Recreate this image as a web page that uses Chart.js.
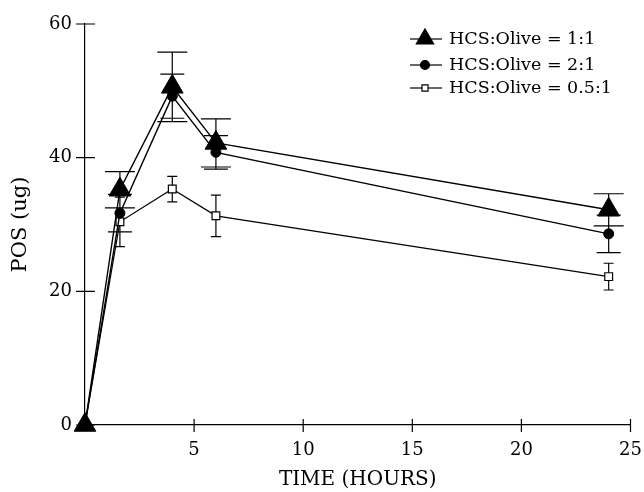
<!DOCTYPE html>
<html>
<head>
<meta charset="utf-8">
<script src="https://cdn.jsdelivr.net/npm/chart.js@4.4.0/dist/chart.umd.min.js"></script>
<style>
html, body { margin: 0; padding: 0; background: #fff; }
</style>
</head>
<body>
<canvas id="plot" width="644" height="492"></canvas>
<script>
var times  = [0, 1.6, 4, 6, 24];				//time, hours
var pos11  = [0, 35.2, 50.6, 42.2, 32.2];		//HCS:Olive = 1:1
var err11  = [0, 2.7, 5.2, 3.6, 2.4];
var pos21  = [0, 31.7, 49.2, 40.8, 28.6];		//HCS:Olive = 2:1
var err21  = [0, 2.8, 3.3, 2.5, 2.8];
var pos051 = [0, 30.4, 35.3, 31.3, 22.2];		//HCS:Olive = 0.5:1
var err051 = [0, 3.7, 1.9, 3.1, 2.0];
var labels = ['HCS:Olive = 1:1', 'HCS:Olive = 2:1', 'HCS:Olive = 0.5:1'];
var xTicks = [5, 10, 15, 20, 25];
var yTicks = [0, 20, 40, 60];

var errs = [err11, err21, err051];				//error bars per dataset
var capW = [15, 12, 5];							//half width of caps

function toPoints(arr) {
	return arr.map(function(v, j) { return {x: times[j], y: v}; });
}

var errorBars = {
	id: 'errorBars',
	beforeDatasetsDraw: function(chart) {
		var ctx = chart.ctx, sx = chart.scales.x, sy = chart.scales.y;
		ctx.save();
		ctx.strokeStyle = '#000';
		ctx.lineWidth = 1.2;
		ctx.beginPath();
		chart.data.datasets.forEach(function(ds, i) {
			ds.data.forEach(function(p, j) {
				var e = errs[i][j];
				if (!e) return;
				var px = sx.getPixelForValue(p.x);
				var top = sy.getPixelForValue(p.y + e), bot = sy.getPixelForValue(p.y - e);
				ctx.moveTo(px, top); ctx.lineTo(px, bot);
				ctx.moveTo(px - capW[i], top); ctx.lineTo(px + capW[i], top);
				ctx.moveTo(px - capW[i], bot); ctx.lineTo(px + capW[i], bot);
			});
		});
		ctx.stroke();
		//tick marks crossing the axes
		ctx.beginPath();
		sy.ticks.forEach(function(t) {
			var py = sy.getPixelForValue(t.value);
			ctx.moveTo(sy.right - 9, py); ctx.lineTo(sy.right + 10, py);
		});
		sx.ticks.forEach(function(t) {
			var px = sx.getPixelForValue(t.value);
			ctx.moveTo(px, sx.top - 6); ctx.lineTo(px, sx.top + 7);
		});
		ctx.stroke();
		ctx.restore();
	}
};

var legendBox = {
	id: 'legendBox',
	afterDraw: function(chart) {
		var ctx = chart.ctx;
		var marks = [
			{pointStyle: 'triangle', radius: 10, fill: '#000'},
			{pointStyle: 'circle', radius: 4.5, fill: '#000'},
			{pointStyle: 'rect', radius: 4.3, fill: '#fff'}
		];
		var rowY = [39, 65, 88];
		ctx.save();
		ctx.font = '17.5px "DejaVu Serif"';
		ctx.textBaseline = 'middle';
		ctx.fillStyle = '#000';
		marks.forEach(function(m, i) {
			var y = rowY[i];
			ctx.strokeStyle = '#000';
			ctx.lineWidth = 1.2;
			ctx.beginPath(); ctx.moveTo(410, y); ctx.lineTo(442, y); ctx.stroke();
			ctx.fillStyle = m.fill;
			Chart.helpers.drawPoint(ctx, {pointStyle: m.pointStyle, radius: m.radius, borderWidth: 1, rotation: 0}, 425, y);
			ctx.fillStyle = '#000';
			ctx.fillText(labels[i], 449, y);
		});
		ctx.restore();
	}
};

Chart.defaults.font.family = '"DejaVu Serif", serif';
Chart.defaults.color = '#000';

var ctx = document.getElementById('plot').getContext('2d');
var myChart = new Chart(ctx, {
	type: 'line',
	data: {
		datasets: [{
			label: labels[0],
			data: toPoints(pos11),
			borderColor: '#000', borderWidth: 1.4,
			pointStyle: 'triangle', pointRadius: 12.5,
			pointBackgroundColor: '#000', pointBorderColor: '#000', pointBorderWidth: 1,
			clip: false
		}, {
			label: labels[1],
			data: toPoints(pos21),
			borderColor: '#000', borderWidth: 1.4,
			pointStyle: 'circle', pointRadius: 5,
			pointBackgroundColor: '#000', pointBorderColor: '#000', pointBorderWidth: 1,
			clip: false
		}, {
			label: labels[2],
			data: toPoints(pos051),
			borderColor: '#000', borderWidth: 1.2,
			pointStyle: 'rect', pointRadius: 5.5,
			pointBackgroundColor: '#fff', pointBorderColor: '#000', pointBorderWidth: 1.2,
			clip: false
		}]
	},
	options: {
		responsive: false,
		animation: false,
		devicePixelRatio: 1,
		layout: {padding: {top: 24, right: 0, left: 0, bottom: 0}},
		plugins: {legend: {display: false}, tooltip: {enabled: false}},
		scales: {
			x: {
				type: 'linear', min: 0, max: 25,
				afterBuildTicks: function(s) { s.ticks = xTicks.map(function(v) { return {value: v}; }); },
				afterFit: function(s) { s.height = 67; s.paddingRight = 13; },
				grid: {display: false, drawTicks: false},
				border: {color: '#000', width: 1.2},
				ticks: {font: {size: 18}, padding: 15, maxRotation: 0},
				title: {display: true, text: 'TIME (HOURS)', font: {size: 20, lineHeight: 1.2}, padding: {top: 0, bottom: 0}}
			},
			y: {
				min: 0, max: 60,
				afterBuildTicks: function(s) { s.ticks = yTicks.map(function(v) { return {value: v}; }); },
				afterFit: function(s) { s.width = 85; },
				grid: {display: false, drawTicks: false},
				border: {color: '#000', width: 1.2},
				ticks: {font: {size: 18}, padding: 13},
				title: {display: true, text: 'POS (ug)', font: {size: 21, lineHeight: 1.2}, padding: {top: 8, bottom: 0}}
			}
		}
	},
	plugins: [errorBars, legendBox]
});
</script>
</body>
</html>
